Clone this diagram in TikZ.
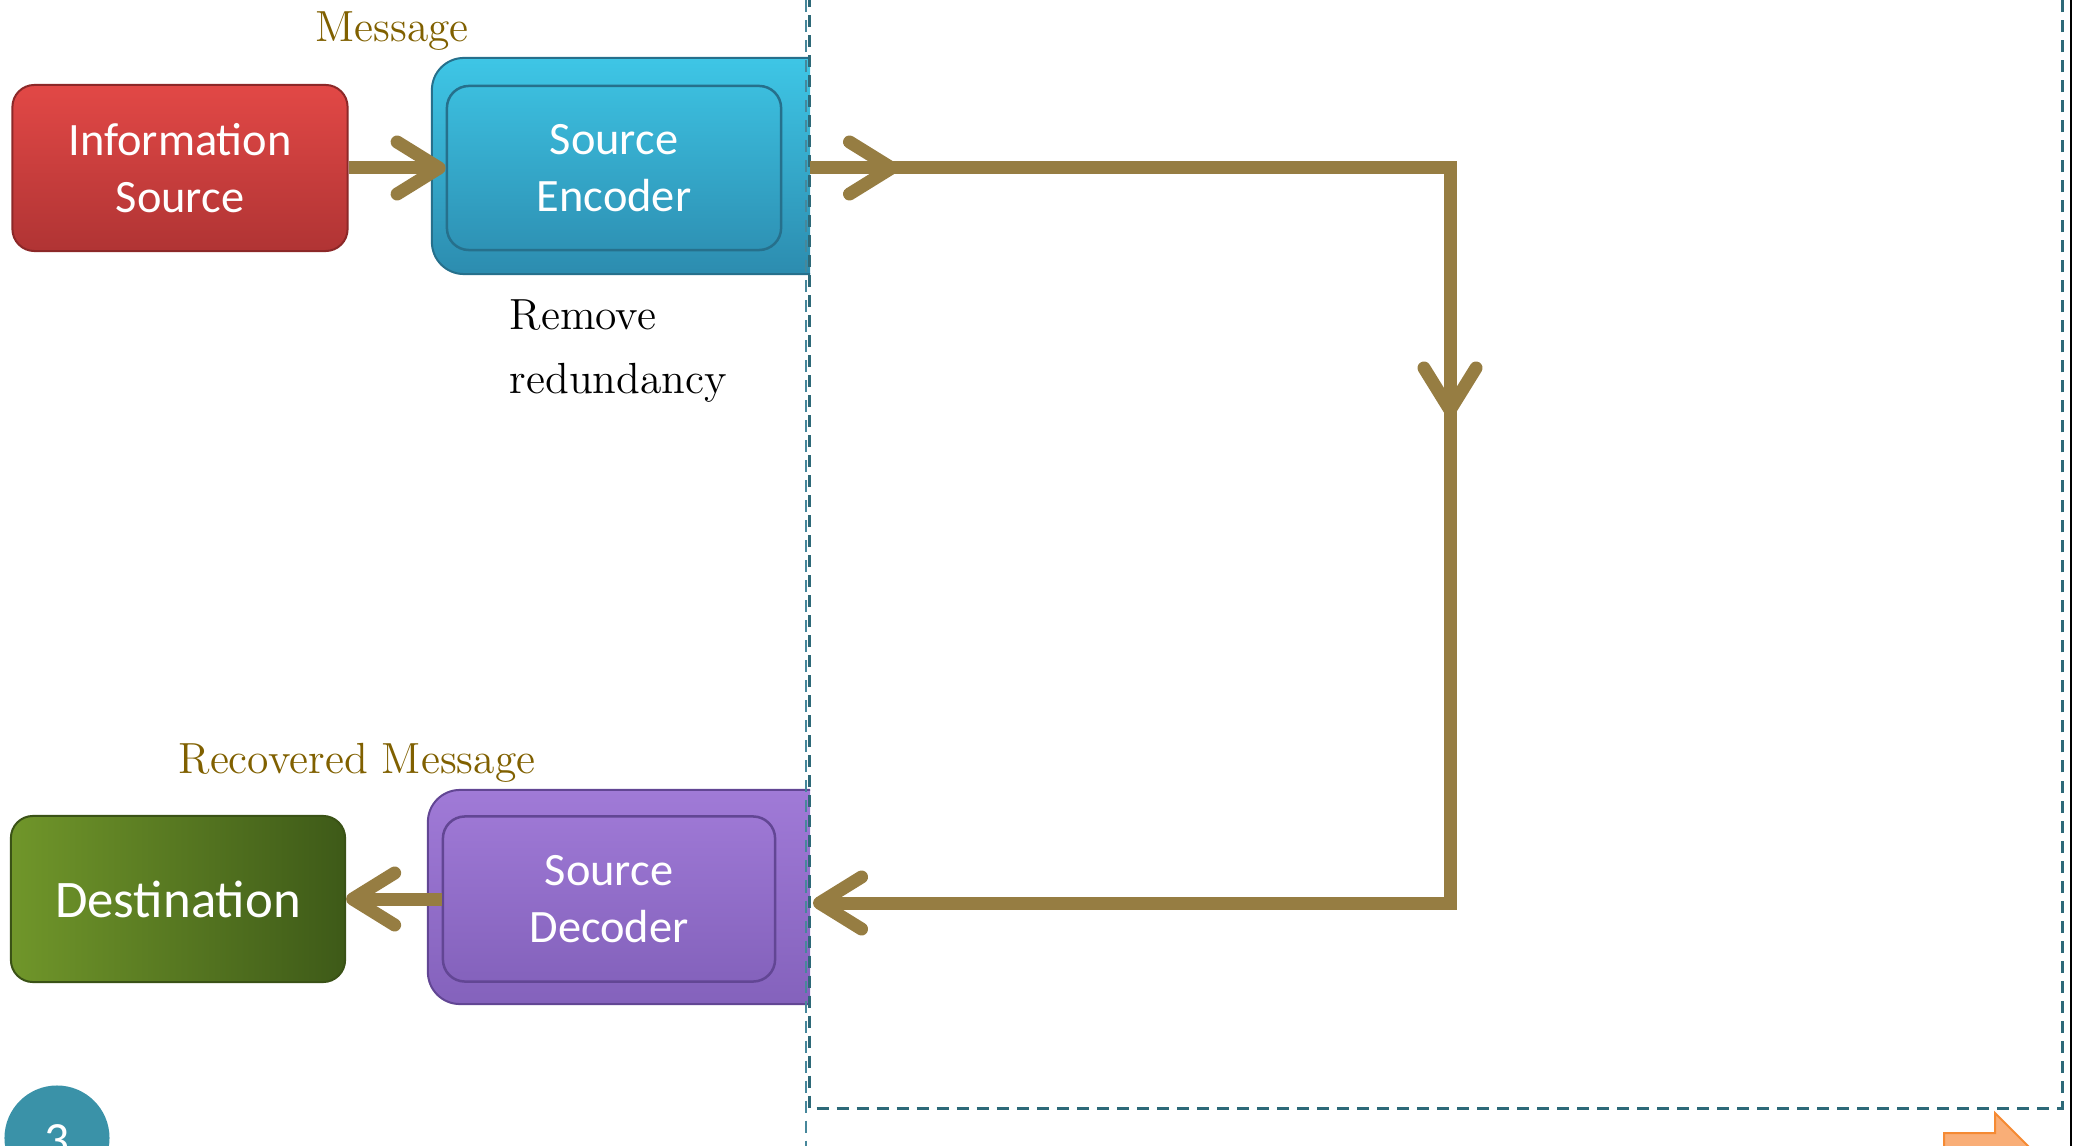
\documentclass[tikz,border=0pt]{standalone}
\usepackage{fontspec}
\newfontfamily\boxfont{Carlito}
\usetikzlibrary{arrows.meta,decorations.markings,calc}

\definecolor{flow}{RGB}{150,125,66}
\definecolor{msgcol}{RGB}{128,96,0}
\definecolor{fence}{RGB}{45,105,120}
\definecolor{fencelight}{RGB}{70,135,155}
\definecolor{redtop}{RGB}{226,72,70}
\definecolor{redbot}{RGB}{176,52,52}
\definecolor{redline}{RGB}{140,40,40}
\definecolor{cyantop}{RGB}{62,198,230}
\definecolor{cyanbot}{RGB}{44,140,175}
\definecolor{cyanline}{RGB}{38,112,140}
\definecolor{purptop}{RGB}{160,122,215}
\definecolor{purpbot}{RGB}{132,98,188}
\definecolor{purpline}{RGB}{98,70,148}
\definecolor{greenl}{RGB}{112,150,42}
\definecolor{greenr}{RGB}{62,90,24}
\definecolor{greenline}{RGB}{58,82,22}
\definecolor{pagenum}{RGB}{58,146,168}
\definecolor{orangefill}{RGB}{249,174,119}
\definecolor{orangeline}{RGB}{245,138,51}

\tikzset{
  chev/.tip={Straight Barb[length=0.42cm,width=0.52cm,round]},
  flowline/.style={draw=flow,line width=0.13cm},
  blocktext/.style={font=\boxfont\fontsize{13.2}{16.2}\selectfont,text=white,align=center},
  serifnote/.style={font=\fontsize{12.4}{18.2}\selectfont,inner sep=0pt},
  dashfence/.style={draw=fence,line width=0.03cm,dash pattern=on 0.12cm off 0.08cm},
}

\begin{document}
\begin{tikzpicture}[x=0.01cm,y=-0.01cm]
\useasboundingbox (0,0) rectangle (2082,1146);

% outer frames of the coder blocks, cut off at the channel boundary
\begin{scope}
  \clip (0,0) rectangle (810,1146);
  \node[rounded corners=0.32cm,minimum width=4.40cm,minimum height=2.16cm,
        top color=cyantop,bottom color=cyanbot,draw=cyanline,line width=0.02cm]
        (encframe) at (652,166) {};
  \node[rounded corners=0.32cm,minimum width=4.44cm,minimum height=2.14cm,
        top color=purptop,bottom color=purpbot,draw=purpline,line width=0.02cm]
        (decframe) at (650,897) {};
\end{scope}

% blocks
\node[rounded corners=0.22cm,minimum width=3.35cm,minimum height=1.66cm,
      top color=redtop,bottom color=redbot,draw=redline,line width=0.02cm,blocktext]
      (info) at (180,168) {Information\\Source};
\node[rounded corners=0.22cm,minimum width=3.34cm,minimum height=1.64cm,
      top color=cyantop!85!cyanbot,bottom color=cyanbot!90!cyantop,draw=cyanline,line width=0.025cm,blocktext]
      (enc) at (614,168) {Source\\Encoder};
\node[rounded corners=0.22cm,minimum width=3.34cm,minimum height=1.66cm,
      left color=greenl,right color=greenr,draw=greenline,line width=0.02cm,
      font=\boxfont\fontsize{15}{18}\selectfont,text=white]
      (dest) at (178,899) {Destination};
\node[rounded corners=0.22cm,minimum width=3.32cm,minimum height=1.65cm,
      top color=purptop!90!purpbot,bottom color=purpbot,draw=purpline,line width=0.025cm,blocktext]
      (dec) at (609,899) {Source\\Decoder};

% labels
\node[serifnote,text=msgcol,anchor=base] (msg) at (392,42) {Message};
\node[serifnote,text=msgcol,anchor=base] (recmsg) at (357,773) {Recovered Message};
\node[serifnote,anchor=west,align=left] (redund) at (509,351) {Remove\\redundancy};

% channel boundary
\draw[fencelight,line width=0.02cm,dash pattern=on 0.12cm off 0.08cm] (806,0) -- (806,1146);
\draw[dashfence] (809,-5) -- (809,1108) -- (2062,1108) -- (2062,-5);
\draw[black,line width=0.015cm] (2071,0) -- (2071,1146);

% connectors
\coordinate (cut) at (810,0);
\coordinate (bendtop) at (1450,168);
\coordinate (bendbot) at (1450,903);
\draw[flowline,-chev] (info.east) -- (enc.west);
\draw[flowline,-chev] (dec.west) -- (dest.east);
\draw[flowline,-chev,postaction={decorate},
      decoration={markings,
        mark=at position 0.88cm with {\arrow{chev}},
        mark=at position 8.88cm with {\arrow{chev}}}]
      (cut |- bendtop) -- (bendtop) -- (bendbot) -- ($(cut |- bendbot)+(3,0)$);

% slide number and navigation arrow
\node[circle,fill=pagenum,minimum size=1.05cm,inner sep=0pt] (pgcircle) at (57,1138) {};
\node[font=\boxfont\fontsize{14}{16}\selectfont,text=white,anchor=base] (pgnum) at (57,1156) {3};
\filldraw[fill=orangefill,draw=orangeline,line width=0.02cm]
  (1944,1133) -- (1995,1133) -- (1995,1113) -- (2042,1160) -- (1995,1207)
  -- (1995,1187) -- (1944,1187) -- cycle;
\end{tikzpicture}
\end{document}
